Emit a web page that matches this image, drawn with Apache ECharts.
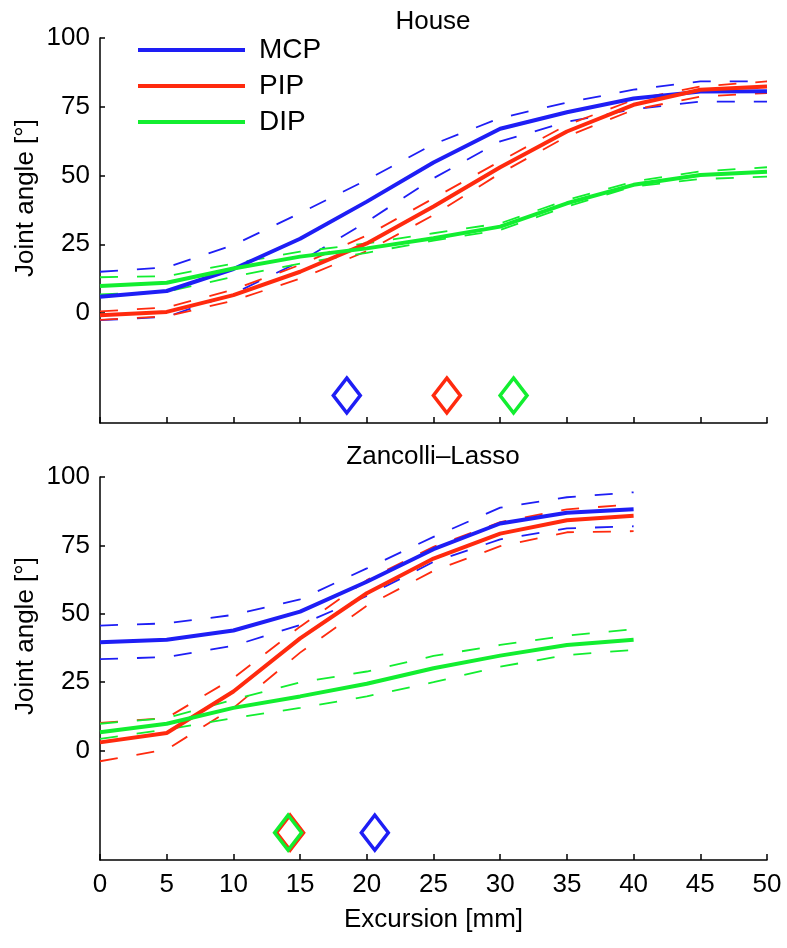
<!DOCTYPE html>
<html>
<head>
<meta charset="utf-8">
<title>Joint angle vs excursion</title>
<script src="https://cdn.jsdelivr.net/npm/echarts@6/dist/echarts.min.js"></script>
<style>
  html, body { margin: 0; padding: 0; background: #fff; }
  #chart { width: 787px; height: 948px; }
</style>
</head>
<body>
<div id="chart"></div>
<script>
//横轴：肌腱位移 (mm)
var excursionHouse = [0, 5, 10, 15, 20, 25, 30, 35, 40, 45, 50];
var excursionZL = [0, 5, 10, 15, 20, 25, 30, 35, 40];

//House 手术：均值及上下界
var houseMCP = [5.9, 8, 16, 27, 40.5, 54.7, 67, 73, 78, 80.5, 80.6];
var houseMCPUpper = [15, 16.6, 24.7, 36.3, 48.4, 61.4, 70.9, 76.5, 81.2, 84.2, 84.2];
var houseMCPLower = [-2.6, -1.4, 7, 18.7, 33.2, 49, 62.4, 69.5, 74.1, 76.9, 76.9];
var housePIP = [-0.8, 0.4, 6.5, 15, 25.3, 38.7, 53, 66, 75.7, 81.2, 82.4];
var housePIPUpper = [0.6, 2, 8.5, 17.5, 28.2, 41.7, 55.2, 68.4, 77.5, 82.4, 84.2];
var housePIPLower = [-2.5, -1.2, 4.5, 12.5, 22.5, 35.6, 50.8, 64.2, 73.9, 78.7, 80];
var houseDIP = [9.8, 11, 16.2, 20.5, 23.5, 27.2, 31.4, 39.9, 46.6, 50.2, 51.4];
var houseDIPUpper = [13, 13.4, 18, 22.3, 25.3, 29, 32.6, 41.1, 47.8, 51.5, 53];
var houseDIPLower = [6.8, 7.7, 13.2, 18, 21.9, 26.3, 30.2, 38.7, 46, 48.7, 49.6];

//Zancolli-Lasso 手术：均值及上下界
var zlMCP = [39.6, 40.5, 43.9, 50.8, 61.7, 73.6, 83, 86.9, 88.2];
var zlMCPUpper = [45.7, 46.5, 49.6, 55.3, 66.6, 78.1, 88.8, 92.6, 94.4];
var zlMCPLower = [33.4, 34.2, 38.3, 45.9, 56.5, 69, 77.2, 81.2, 82];
var zlPIP = [3, 6.4, 21.6, 41, 57.5, 70.2, 79.3, 84.2, 85.8];
var zlPIPUpper = [10.1, 11.9, 26.5, 45.3, 62.3, 74.5, 83.5, 88.2, 90];
var zlPIPLower = [-3.9, 0.4, 15.6, 35.8, 52.9, 65.7, 74.7, 79.8, 80.2];
var zlDIP = [6.7, 9.8, 15.6, 19.8, 24.4, 30.1, 34.7, 38.6, 40.5];
var zlDIPUpper = [9.8, 11.9, 18.6, 24.9, 28.9, 34.6, 38.6, 42, 44.4];
var zlDIPLower = [4.3, 7.7, 11.9, 15.6, 19.8, 25, 30.7, 34.9, 36.8];

//菱形标记位置 (MCP, PIP, DIP)
var houseMarkerX = [18.5, 26.0, 31.0];
var zlMarkerX = [20.6, 14.25, 14.1];
var markerY = [-30, -30, -30];

//纵轴刻度
var yTicks = [0, 25, 50, 75, 100];
var joints = ['MCP', 'PIP', 'DIP'];
var titles = ['House', 'Zancolli\u2013Lasso'];

//样式
var colorList = ['#1e1ef5', '#ff2a0e', '#12ee30'];
var fontFamily = '"Liberation Sans", Arial, sans-serif';

//组合 x,y
function pairs(xs, ys) {
    return xs.map(function (x, i) {
        return [x, ys[i]];
    });
}

//折线
function line(name, xs, ys, idx, color, dashed) {
    return {
        type: 'line',
        name: name,
        xAxisIndex: idx,
        yAxisIndex: idx,
        data: pairs(xs, ys),
        showSymbol: false,
        silent: true,
        z: dashed ? 2 : 3,
        itemStyle: { color: color },
        lineStyle: {
            color: color,
            width: dashed ? 1.8 : 4,
            type: dashed ? [18, 19] : 'solid'
        },
        animation: false
    };
}

//菱形
function marker(name, x, y, idx, color) {
    return {
        type: 'scatter',
        name: name,
        xAxisIndex: idx,
        yAxisIndex: idx,
        data: [[x, y]],
        symbol: 'diamond',
        symbolSize: [27, 35],
        silent: true,
        z: 4,
        itemStyle: {
            color: 'rgba(0,0,0,0)',
            borderColor: color,
            borderWidth: 3.5,
            opacity: 1
        },
        animation: false
    };
}

var panels = [
    {
        xs: excursionHouse,
        mean: [houseMCP, housePIP, houseDIP],
        upper: [houseMCPUpper, housePIPUpper, houseDIPUpper],
        lower: [houseMCPLower, housePIPLower, houseDIPLower],
        markers: houseMarkerX
    },
    {
        xs: excursionZL,
        mean: [zlMCP, zlPIP, zlDIP],
        upper: [zlMCPUpper, zlPIPUpper, zlDIPUpper],
        lower: [zlMCPLower, zlPIPLower, zlDIPLower],
        markers: zlMarkerX
    }
];

var series = [];
panels.forEach(function (p, idx) {
    joints.forEach(function (j, k) {
        series.push(line(j, p.xs, p.mean[k], idx, colorList[k], false));
    });
    joints.forEach(function (j, k) {
        series.push(line(j, p.xs, p.upper[k], idx, colorList[k], true));
        series.push(line(j, p.xs, p.lower[k], idx, colorList[k], true));
    });
    joints.forEach(function (j, k) {
        series.push(marker(j, p.markers[k], markerY[k], idx, colorList[k]));
    });
});

var grids = [
    { left: 100, right: 20, top: 38, height: 385 },
    { left: 100, right: 20, top: 477, height: 383 }
];

var axisLine = { show: true, onZero: false, lineStyle: { color: '#000', width: 1.5 } };

var xAxes = grids.map(function (g, idx) {
    return {
        type: 'value',
        gridIndex: idx,
        min: 0,
        max: 50,
        interval: 5,
        axisLine: axisLine,
        axisTick: { show: true, inside: true, length: 6, lineStyle: { color: '#000', width: 1.5 } },
        axisLabel: {
            show: idx === 1,
            color: '#000',
            fontSize: 26,
            fontFamily: fontFamily,
            margin: 12
        },
        splitLine: { show: false },
        name: idx === 1 ? 'Excursion [mm]' : '',
        nameLocation: 'middle',
        nameGap: 47,
        nameTextStyle: { color: '#000', fontSize: 26, fontFamily: fontFamily }
    };
});

var yAxes = grids.map(function (g, idx) {
    return {
        type: 'value',
        gridIndex: idx,
        min: -40,
        max: 100,
        axisLine: axisLine,
        axisTick: {
            show: true,
            inside: true,
            length: 5,
            customValues: yTicks,
            lineStyle: { color: '#000', width: 1.5 }
        },
        axisLabel: {
            color: '#000',
            fontSize: 26,
            fontFamily: fontFamily,
            margin: 10,
            customValues: yTicks
        },
        splitLine: { show: false }
    };
});

var chart = echarts.init(document.getElementById('chart'), null, { renderer: 'canvas' });

chart.setOption({
    backgroundColor: '#fff',
    animation: false,
    title: titles.map(function (t, idx) {
        return {
            text: t,
            left: 433,
            top: idx === 0 ? 9 : 444,
            textAlign: 'center',
            padding: 0,
            textStyle: { color: '#000', fontSize: 26, fontWeight: 'normal', fontFamily: fontFamily }
        };
    }),
    legend: {
        data: joints,
        orient: 'vertical',
        left: 138,
        top: 36,
        icon: 'rect',
        itemWidth: 107,
        itemHeight: 4,
        itemGap: 8,
        padding: 0,
        selectedMode: false,
        textStyle: { color: '#000', fontSize: 28, lineHeight: 26, fontFamily: fontFamily, padding: [0, 0, 0, 9] }
    },
    grid: grids,
    xAxis: xAxes,
    yAxis: yAxes,
    graphic: [0, 1].map(function (idx) {
        return {
            type: 'text',
            x: 26,
            y: idx === 0 ? 198 : 636,
            rotation: Math.PI / 2,
            style: {
                text: 'Joint angle [\u00b0]',
                fontSize: 26,
                fontFamily: fontFamily,
                fill: '#000',
                align: 'center',
                verticalAlign: 'middle'
            }
        };
    }),
    series: series
});
</script>
</body>
</html>
